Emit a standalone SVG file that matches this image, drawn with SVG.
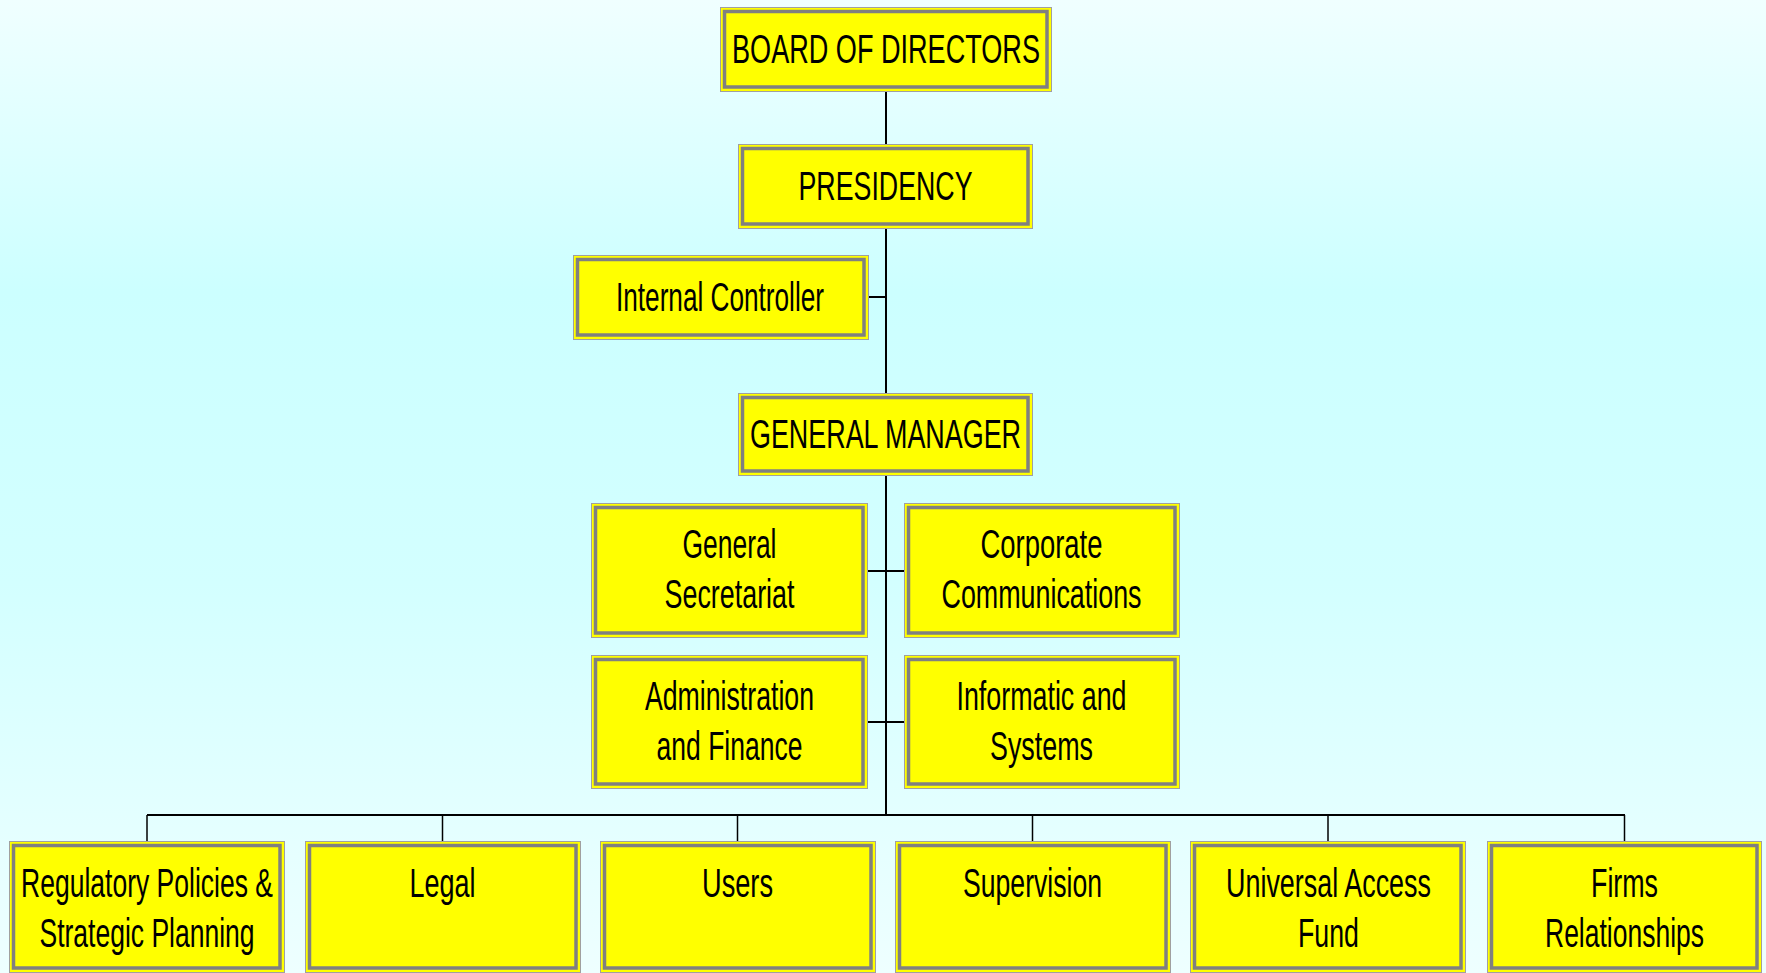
<svg xmlns="http://www.w3.org/2000/svg" width="1766" height="973" viewBox="0 0 1766 973">
<defs>
<linearGradient id="bg" x1="0" y1="0" x2="0" y2="1">
<stop offset="0" stop-color="#F0FFFF"/>
<stop offset="0.3" stop-color="#CCFFFF"/>
<stop offset="0.6" stop-color="#D3FFFF"/>
<stop offset="1" stop-color="#EEFFFF"/>
</linearGradient>
<style>
.o{fill:#FFFF00;stroke:#A0A0A0;stroke-width:1}
.i{fill:none;stroke:#808080;stroke-width:3.5}
.t{font-family:"Liberation Sans Narrow","Liberation Sans",Arial,sans-serif;font-size:41px;fill:#000;text-anchor:middle}
.c{stroke:#000;stroke-width:2;fill:none}
.d{stroke:#000;stroke-width:1.5;fill:none}
</style>
</defs>
<rect x="0" y="0" width="1766" height="973" fill="url(#bg)"/>

<g id="connectors">
<line class="c" x1="886" y1="92" x2="886" y2="144"/>
<line class="c" x1="886" y1="229" x2="886" y2="393"/>
<line class="c" x1="869" y1="297" x2="886" y2="297"/>
<line class="c" x1="886" y1="476" x2="886" y2="815"/>
<line class="c" x1="868" y1="571" x2="904" y2="571"/>
<line class="c" x1="868" y1="722" x2="904" y2="722"/>
<line class="c" x1="147" y1="815" x2="1625" y2="815"/>
<line class="d" x1="147" y1="815" x2="147" y2="841"/>
<line class="d" x1="442.5" y1="815" x2="442.5" y2="841"/>
<line class="d" x1="737.5" y1="815" x2="737.5" y2="841"/>
<line class="d" x1="1032.5" y1="815" x2="1032.5" y2="841"/>
<line class="d" x1="1328" y1="815" x2="1328" y2="841"/>
<line class="d" x1="1624.5" y1="815" x2="1624.5" y2="841"/>
</g>

<g id="board">
<rect class="o" x="720.5" y="7.5" width="331" height="84"/>
<rect class="i" x="724.5" y="11.5" width="322.5" height="75.5"/>
<text class="t" x="886" y="63" textLength="308" lengthAdjust="spacingAndGlyphs">BOARD OF DIRECTORS</text>
</g>

<g id="presidency">
<rect class="o" x="738.5" y="144.5" width="294" height="84"/>
<rect class="i" x="742.5" y="148.5" width="285.5" height="75.5"/>
<text class="t" x="885.5" y="200" textLength="174" lengthAdjust="spacingAndGlyphs">PRESIDENCY</text>
</g>

<g id="internal-controller">
<rect class="o" x="573.5" y="255.5" width="295" height="84"/>
<rect class="i" x="577.5" y="259.5" width="286.5" height="75.5"/>
<text class="t" x="720" y="311" textLength="208" lengthAdjust="spacingAndGlyphs">Internal Controller</text>
</g>

<g id="general-manager">
<rect class="o" x="738.5" y="393.5" width="294" height="82"/>
<rect class="i" x="742.5" y="397.5" width="285.5" height="73.5"/>
<text class="t" x="885.5" y="448" textLength="271" lengthAdjust="spacingAndGlyphs">GENERAL MANAGER</text>
</g>

<g id="general-secretariat">
<rect class="o" x="591.5" y="503.5" width="276" height="134"/>
<rect class="i" x="595.5" y="507.5" width="267.5" height="125.5"/>
<text class="t" x="729.5" y="558" textLength="94" lengthAdjust="spacingAndGlyphs">General</text>
<text class="t" x="729.5" y="608" textLength="130" lengthAdjust="spacingAndGlyphs">Secretariat</text>
</g>

<g id="corporate-communications">
<rect class="o" x="904.5" y="503.5" width="275" height="134"/>
<rect class="i" x="908.5" y="507.5" width="266.5" height="125.5"/>
<text class="t" x="1041.5" y="558" textLength="122" lengthAdjust="spacingAndGlyphs">Corporate</text>
<text class="t" x="1041.5" y="608" textLength="200" lengthAdjust="spacingAndGlyphs">Communications</text>
</g>

<g id="administration-finance">
<rect class="o" x="591.5" y="655.5" width="276" height="133"/>
<rect class="i" x="595.5" y="659.5" width="267.5" height="124.5"/>
<text class="t" x="729.5" y="710" textLength="169" lengthAdjust="spacingAndGlyphs">Administration</text>
<text class="t" x="729.5" y="760" textLength="146" lengthAdjust="spacingAndGlyphs">and Finance</text>
</g>

<g id="informatic-systems">
<rect class="o" x="904.5" y="655.5" width="275" height="133"/>
<rect class="i" x="908.5" y="659.5" width="266.5" height="124.5"/>
<text class="t" x="1041.5" y="710" textLength="170" lengthAdjust="spacingAndGlyphs">Informatic and</text>
<text class="t" x="1041.5" y="760" textLength="103" lengthAdjust="spacingAndGlyphs">Systems</text>
</g>

<g id="regulatory-policies">
<rect class="o" x="9.5" y="841.5" width="275" height="131"/>
<rect class="i" x="13.5" y="845.5" width="266.5" height="122.5"/>
<text class="t" x="147" y="897" textLength="252" lengthAdjust="spacingAndGlyphs">Regulatory Policies &amp;</text>
<text class="t" x="147" y="947" textLength="215" lengthAdjust="spacingAndGlyphs">Strategic Planning</text>
</g>

<g id="legal">
<rect class="o" x="305.5" y="841.5" width="275" height="131"/>
<rect class="i" x="309.5" y="845.5" width="266.5" height="122.5"/>
<text class="t" x="442.5" y="897" textLength="66" lengthAdjust="spacingAndGlyphs">Legal</text>
</g>

<g id="users">
<rect class="o" x="600.5" y="841.5" width="275" height="131"/>
<rect class="i" x="604.5" y="845.5" width="266.5" height="122.5"/>
<text class="t" x="737.5" y="897" textLength="71" lengthAdjust="spacingAndGlyphs">Users</text>
</g>

<g id="supervision">
<rect class="o" x="895.5" y="841.5" width="275" height="131"/>
<rect class="i" x="899.5" y="845.5" width="266.5" height="122.5"/>
<text class="t" x="1032.5" y="897" textLength="139" lengthAdjust="spacingAndGlyphs">Supervision</text>
</g>

<g id="universal-access-fund">
<rect class="o" x="1190.5" y="841.5" width="275" height="131"/>
<rect class="i" x="1194.5" y="845.5" width="266.5" height="122.5"/>
<text class="t" x="1328.5" y="897" textLength="205" lengthAdjust="spacingAndGlyphs">Universal Access</text>
<text class="t" x="1328.5" y="947" textLength="61" lengthAdjust="spacingAndGlyphs">Fund</text>
</g>

<g id="firms-relationships">
<rect class="o" x="1487.5" y="841.5" width="274" height="131"/>
<rect class="i" x="1491.5" y="845.5" width="265.5" height="122.5"/>
<text class="t" x="1624.5" y="897" textLength="67" lengthAdjust="spacingAndGlyphs">Firms</text>
<text class="t" x="1624.5" y="947" textLength="159" lengthAdjust="spacingAndGlyphs">Relationships</text>
</g>
</svg>
